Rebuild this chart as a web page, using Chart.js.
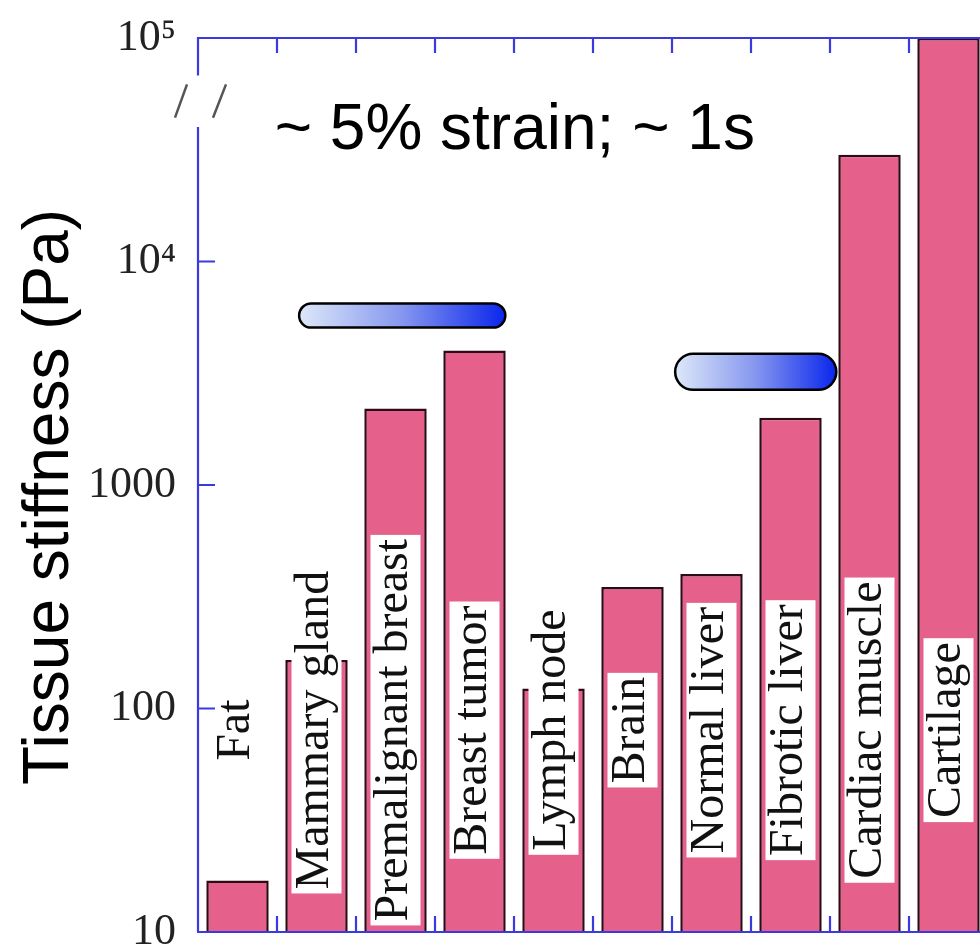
<!DOCTYPE html>
<html>
<head>
<meta charset="utf-8">
<script src="https://cdn.jsdelivr.net/npm/chart.js@4/dist/chart.umd.min.js"></script>
<style>
  html, body { margin: 0; padding: 0; background: #fff; overflow: hidden; }
  canvas { display: block; }
</style>
</head>
<body>
<canvas id="c" width="1000" height="951"></canvas>
<script>
// ---- data ----
const categories = ['Fat', 'Mammary gland', 'Premalignant breast', 'Breast tumor', 'Lymph node',
                    'Brain', 'Normal liver', 'Fibrotic liver', 'Cardiac muscle', 'Cartilage'];
const stiffness = [17, 165, 2200, 4000, 123, 350, 400, 2000, 30000, 100000];
const yTickValues = [10, 100, 1000, 10000, 100000];
const yTickLabels = ['10', '100', '1000', '10\u2074', '10\u2075'];
// gradient range bars (category index span, stiffness span)
const rangeFrom = [0.78, 5.54];
const rangeTo = [3.39, 7.58];
const rangeLow = [5060, 2667];
const rangeHigh = [6490, 3865];
const annotationText = '~ 5% strain; ~ 1s';
const yTitle = 'Tissue stiffness (Pa)';

const AXIS = '#3a3ade';

const overlay = {
  id: 'overlay',
  afterDatasetsDraw(chart) {
    const { ctx, chartArea: ca, scales: { x, y } } = chart;
    ctx.save();
    // category labels inside bars
    ctx.font = '48px "Liberation Serif"';
    const cy = y.getPixelForValue(80);
    categories.forEach((c, i) => {
      const cx = x.getPixelForValue(i);
      const w = ctx.measureText(c).width;
      ctx.save();
      ctx.translate(cx, cy);
      ctx.rotate(-Math.PI / 2);
      ctx.fillStyle = '#ffffff';
      ctx.fillRect(-w / 2 - 4, -25, w + 8, 50);
      ctx.fillStyle = '#111111';
      ctx.textAlign = 'center';
      ctx.textBaseline = 'alphabetic';
      ctx.fillText(c, 0, 11);
      ctx.restore();
    });

    // gradient range pills
    rangeFrom.forEach((f, k) => {
      const x0 = x.getPixelForValue(f), x1 = x.getPixelForValue(rangeTo[k]);
      const y0 = y.getPixelForValue(rangeHigh[k]), y1 = y.getPixelForValue(rangeLow[k]);
      const r = (y1 - y0) / 2;
      const g = ctx.createLinearGradient(x0, 0, x1, 0);
      g.addColorStop(0, '#dde8f8');
      g.addColorStop(0.5, '#8596ef');
      g.addColorStop(1, '#0a26ec');
      ctx.beginPath();
      ctx.moveTo(x0 + r, y0);
      ctx.lineTo(x1 - r, y0);
      ctx.arc(x1 - r, y0 + r, r, -Math.PI / 2, Math.PI / 2);
      ctx.lineTo(x0 + r, y1);
      ctx.arc(x0 + r, y0 + r, r, Math.PI / 2, Math.PI * 1.5);
      ctx.closePath();
      ctx.fillStyle = g;
      ctx.fill();
      ctx.lineWidth = 2.5;
      ctx.strokeStyle = '#000';
      ctx.stroke();
    });

    // annotation text
    ctx.font = '64px "Liberation Sans"';
    ctx.fillStyle = '#000';
    ctx.textAlign = 'left';
    ctx.textBaseline = 'alphabetic';
    ctx.fillText(annotationText, x.getPixelForValue(0.47), y.getPixelForValue(32000));

    // axes
    ctx.strokeStyle = AXIS;
    ctx.lineWidth = 2.2;
    ctx.beginPath();
    ctx.moveTo(ca.left, ca.top); ctx.lineTo(chart.width, ca.top);
    ctx.moveTo(ca.left - 1, ca.bottom); ctx.lineTo(chart.width, ca.bottom);
    const brTop = y.getPixelForValue(68000), brBot = y.getPixelForValue(40000);
    ctx.moveTo(ca.left, ca.top - 1); ctx.lineTo(ca.left, brTop);
    ctx.moveTo(ca.left, brBot); ctx.lineTo(ca.left, ca.bottom);
    // category boundary ticks (inward)
    for (let i = 0; i < categories.length - 1; i++) {
      const bx = (x.getPixelForValue(i) + x.getPixelForValue(i + 1)) / 2;
      ctx.moveTo(bx, ca.top); ctx.lineTo(bx, ca.top + 15);
      ctx.moveTo(bx, ca.bottom); ctx.lineTo(bx, ca.bottom - 16);
    }
    // y decade ticks (inward)
    yTickValues.forEach(v => {
      const py = y.getPixelForValue(v);
      ctx.moveTo(ca.left, py); ctx.lineTo(ca.left + 17, py);
    });
    ctx.stroke();

    // axis break marks
    ctx.strokeStyle = '#555';
    ctx.lineWidth = 2.5;
    const sTop = y.getPixelForValue(62000), sBot = y.getPixelForValue(44000);
    ctx.beginPath();
    ctx.moveTo(ca.left - 23, sBot); ctx.lineTo(ca.left - 11, sTop);
    ctx.moveTo(ca.left + 15, sBot); ctx.lineTo(ca.left + 28, sTop);
    ctx.stroke();

    // y axis title
    ctx.save();
    ctx.translate(68, (ca.top + ca.bottom) / 2 + 12);
    ctx.rotate(-Math.PI / 2);
    ctx.font = '64px "Liberation Sans"';
    ctx.fillStyle = '#000';
    ctx.textAlign = 'center';
    ctx.textBaseline = 'alphabetic';
    ctx.fillText(yTitle, 0, 0);
    ctx.restore();

    ctx.restore();
  }
};

new Chart(document.getElementById('c'), {
  type: 'bar',
  data: {
    labels: categories,
    datasets: [{
      data: stiffness,
      backgroundColor: 'rgb(229, 96, 138)',
      borderColor: '#2e0a16',
      borderWidth: 2.5,
      borderSkipped: 'bottom',
      barPercentage: 0.79,
      categoryPercentage: 1
    }]
  },
  options: {
    responsive: false,
    animation: false,
    devicePixelRatio: 1,
    layout: { padding: { left: 0, right: 12, top: 38, bottom: 19 } },
    plugins: { legend: { display: false }, tooltip: { enabled: false } },
    scales: {
      x: { type: 'category', display: false, offset: true, grid: { offset: true } },
      y: {
        type: 'logarithmic',
        min: 10,
        max: 100000,
        position: 'left',
        border: { display: false },
        grid: { display: false, drawTicks: false },
        ticks: {
          font: { family: 'Liberation Serif', size: 44 },
          color: '#222',
          padding: 22,
          autoSkip: false,
          callback: (v) => {
            const i = yTickValues.indexOf(v);
            return i >= 0 ? yTickLabels[i] : '';
          }
        },
        afterBuildTicks: (s) => { s.ticks = yTickValues.map(v => ({ value: v })); },
        afterFit: (s) => { s.width = 198; s.paddingTop = 0; s.paddingBottom = 0; }
      }
    }
  },
  plugins: [overlay]
});
</script>
</body>
</html>
